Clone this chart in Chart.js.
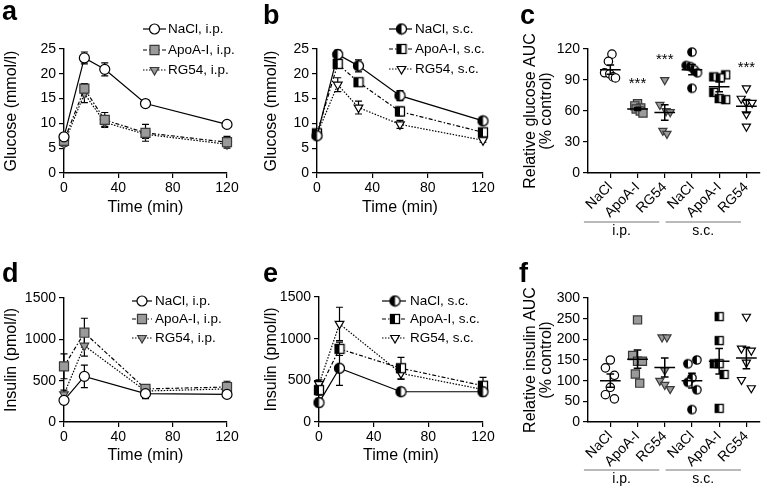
<!DOCTYPE html>
<html><head><meta charset="utf-8">
<script src="https://cdn.jsdelivr.net/npm/chart.js@4.4.1/dist/chart.umd.min.js"></script>
<style>
html,body{margin:0;padding:0;background:#fff;}
body{width:767px;height:488px;position:relative;overflow:hidden;font-family:'Liberation Sans',Arial,Helvetica,sans-serif;}
canvas{position:absolute;}
.letter{position:absolute;font-weight:bold;font-size:27px;line-height:27px;color:#000;}
</style></head>
<body>
<canvas id="cA" width="256" height="240" style="left:0;top:0"></canvas>
<canvas id="cB" width="256" height="240" style="left:256px;top:0"></canvas>
<canvas id="cC" width="255" height="240" style="left:512px;top:0"></canvas>
<canvas id="cD" width="256" height="248" style="left:0;top:240px"></canvas>
<canvas id="cE" width="256" height="248" style="left:256px;top:240px"></canvas>
<canvas id="cF" width="255" height="248" style="left:512px;top:240px"></canvas>
<div class="letter" style="left:2px;top:-2px">a</div>
<div class="letter" style="left:263px;top:2px">b</div>
<div class="letter" style="left:520px;top:2px">c</div>
<div class="letter" style="left:2px;top:260px">d</div>
<div class="letter" style="left:263px;top:260px">e</div>
<div class="letter" style="left:519px;top:260px">f</div>
<script>
const FONT = "'Liberation Sans', Arial, Helvetica, sans-serif";
Chart.defaults.font.family = FONT;
Chart.defaults.color = '#000';

// ---------------- data ----------------
const timeGlucose = [0, 15, 30, 60, 120];
const timeInsulin = [0, 15, 60, 120];
const timeTicks = [0, 40, 80, 120];
const labelsIP = ['NaCl, i.p.', 'ApoA-I, i.p.', 'RG54, i.p.'];
const labelsSC = ['NaCl, s.c.', 'ApoA-I, s.c.', 'RG54, s.c.'];

// glucose (mmol/l), mean and SEM
const gluNaClIP = [7.3, 23.2, 20.9, 14.0, 9.8];
const gluNaClIPSem = [0.6, 1.2, 1.3, 0.4, 0.4];
const gluApoIP = [6.5, 17.0, 10.7, 8.1, 6.2];
const gluApoIPSem = [0.6, 1.0, 1.5, 1.7, 1.2];
const gluRG54IP = [5.9, 16.0, 10.2, 7.8, 5.8];
const gluRG54IPSem = [0.5, 1.8, 0.8, 0.8, 0.5];

const gluNaClSC = [7.5, 23.9, 21.6, 15.6, 10.5];
const gluNaClSCSem = [0.5, 0.9, 1.2, 1.0, 0.7];
const gluApoSC = [8.0, 22.0, 18.3, 12.4, 8.2];
const gluApoSCSem = [0.5, 0.8, 0.6, 0.9, 0.5];
const gluRG54SC = [7.8, 17.8, 13.2, 9.8, 6.6];
const gluRG54SCSem = [0.5, 1.4, 1.3, 0.8, 0.4];

// insulin (pmol/l), mean and SEM
const insNaClIP = [262, 552, 343, 334];
const insNaClIPSem = [40, 135, 60, 40];
const insApoIP = [673, 1080, 400, 423];
const insApoIPSem = [150, 175, 50, 70];
const insRG54IP = [335, 923, 375, 400];
const insRG54IPSem = [50, 125, 40, 50];

const insNaClSC = [233, 645, 363, 363];
const insNaClSCSem = [50, 205, 45, 50];
const insApoSC = [383, 878, 645, 435];
const insApoSCSem = [60, 80, 130, 100];
const insRG54SC = [455, 1177, 584, 390];
const insRG54SCSem = [50, 200, 70, 40];

// AUC categories
const aucGroups = ['NaCl', 'ApoA-I', 'RG54', 'NaCl', 'ApoA-I', 'RG54'];
const aucRoutes = ['i.p.', 's.c.'];

// relative glucose AUC (% control), individual animals
const aucGluNaClIP = [115, 108, 97, 96, 93, 92];
const aucGluApoIP = [67, 65, 63, 62, 60, 58];
const aucGluRG54IP = [90, 66, 60, 59, 41, 38];
const aucGluNaClSC = [117, 104, 103, 100, 97, 82];
const aucGluApoSC = [95, 93, 92, 78, 72, 71];
const aucGluRG54SC = [82, 72, 68, 68, 57, 45];
const aucGluMean = [100, 62, 58.5, 100, 83.5, 64.7];
const aucGluSem = [4.5, 1.5, 7.5, 5, 4.8, 6.5];
const aucGluSig = ['', '***', '***', '', '', '***'];

// relative insulin AUC (% control), individual animals
const aucInsNaClIP = [150, 131, 113, 84, 66, 56];
const aucInsApoIP = [247, 161, 147, 147, 116, 94];
const aucInsRG54IP = [205, 205, 125, 100, 90, 80];
const aucInsNaClSC = [150, 141, 107, 96, 78, 30];
const aucInsApoSC = [255, 197, 141, 141, 115, 33];
const aucInsRG54SC = [255, 178, 173, 144, 102, 82];
const aucInsMean = [100, 152, 132, 100, 147, 155];
const aucInsSem = [16, 22, 23, 18, 31, 26];
const aucInsSig = ['', '', '', '', '', ''];

// horizontal spread of the dots inside each category (category units)
const jitGluNaClIP = [0.06, -0.07, -0.21, -0.02, 0.1, 0.19];
const jitGluApoIP = [0.0, -0.1, 0.12, -0.05, 0.1, 0.2];
const jitGluRG54IP = [0, -0.18, 0.05, 0.2, -0.07, 0.08];
const jitGluNaClSC = [0, -0.21, -0.06, 0.08, 0.2, 0];
const jitGluApoSC = [0.24, -0.2, 0.04, -0.2, 0, 0.24];
const jitGluRG54SC = [0, -0.19, 0, 0.21, 0, 0];
const jitInsNaClIP = [0, -0.18, 0.15, 0, -0.18, 0.15];
const jitInsApoIP = [0, -0.18, 0, 0.18, -0.08, 0.08];
const jitInsRG54IP = [-0.1, 0.08, 0, -0.18, 0, 0.2];
const jitInsNaClSC = [0.18, -0.15, 0, -0.15, 0.18, 0];
const jitInsApoSC = [0, 0, -0.18, 0, 0.18, 0];
const jitInsRG54SC = [0, -0.18, 0.18, 0, -0.18, 0.18];

// ---------------- marker images ----------------
function halfCircle(r) {
  const s = Math.ceil(2 * r + 3), c = document.createElement('canvas');
  c.width = s; c.height = s;
  const g = c.getContext('2d'), m = s / 2;
  g.beginPath(); g.arc(m, m, r, 0, Math.PI * 2); g.fillStyle = '#fff'; g.fill();
  g.beginPath(); g.moveTo(m, m - r); g.arc(m, m, r, -Math.PI / 2, Math.PI / 2, true); g.closePath();
  g.fillStyle = '#000'; g.fill();
  g.beginPath(); g.arc(m, m, r, 0, Math.PI * 2); g.lineWidth = 1.3; g.strokeStyle = '#000'; g.stroke();
  return c;
}
function halfSquare(side) {
  const s = Math.ceil(side + 3), c = document.createElement('canvas');
  c.width = s; c.height = s;
  const g = c.getContext('2d'), m = s / 2, h = side / 2;
  g.fillStyle = '#fff'; g.fillRect(m - h, m - h, side, side);
  g.fillStyle = '#000'; g.fillRect(m - h, m - h, h, side);
  g.lineWidth = 1.3; g.strokeStyle = '#000'; g.strokeRect(m - h, m - h, side, side);
  return c;
}

// ---------------- styles ----------------
const GREY = '#9a9a9a', GREYB = '#3a3a3a';
function lineStyles(sc) {
  return sc ? [
    {pointStyle: halfCircle(5), radius: 5, bg: '#000', border: '#000', dash: []},
    {pointStyle: halfSquare(9), radius: 5, bg: '#000', border: '#000', dash: [4, 2, 1.5, 2]},
    {pointStyle: 'triangle', rotation: 180, radius: 5, bg: '#fff', border: '#000', dash: [1.5, 1.5]}
  ] : [
    {pointStyle: 'circle', radius: 5, bg: '#fff', border: '#000', dash: []},
    {pointStyle: 'rect', radius: 6.4, bg: GREY, border: GREYB, dash: [4, 2, 1.5, 2]},
    {pointStyle: 'triangle', rotation: 180, radius: 5, bg: GREY, border: GREYB, dash: [1.5, 1.5]}
  ];
}
const dotStyles = [
  {pointStyle: 'circle', radius: 4.2, bg: '#fff', border: '#000'},
  {pointStyle: 'rect', radius: 5.8, bg: GREY, border: GREYB},
  {pointStyle: 'triangle', rotation: 180, radius: 4.7, bg: GREY, border: GREYB},
  {pointStyle: halfCircle(4.2), radius: 4.2, bg: '#000', border: '#000'},
  {pointStyle: halfSquare(8), radius: 4.5, bg: '#000', border: '#000'},
  {pointStyle: 'triangle', rotation: 180, radius: 4.7, bg: '#fff', border: '#000'}
];

const gridOpt = {display: true, drawOnChartArea: false, drawTicks: true, tickLength: 5, color: '#000', lineWidth: 1.2};
const borderOpt = {display: true, color: '#000', width: 1.4};
const plainNum = v => String(v);

// ---------------- plugins ----------------
const semBars = {
  id: 'semBars',
  beforeDatasetsDraw(chart) {
    const {ctx, scales: {x, y}} = chart;
    ctx.save();
    ctx.strokeStyle = '#000'; ctx.lineWidth = 1.2; ctx.setLineDash([]);
    chart.data.datasets.forEach(ds => {
      if (!ds.sem) return;
      ds.data.forEach((p, j) => {
        const e = ds.sem[j];
        if (!e) return;
        const px = x.getPixelForValue(p.x);
        const yt = y.getPixelForValue(p.y + e), yb = y.getPixelForValue(p.y - e);
        ctx.beginPath();
        ctx.moveTo(px, yt); ctx.lineTo(px, yb);
        ctx.moveTo(px - 3.5, yt); ctx.lineTo(px + 3.5, yt);
        ctx.moveTo(px - 3.5, yb); ctx.lineTo(px + 3.5, yb);
        ctx.stroke();
      });
    });
    ctx.restore();
  }
};

function drawMarker(ctx, ds, x, y) {
  ctx.fillStyle = ds.pointBackgroundColor;
  ctx.strokeStyle = ds.pointBorderColor;
  ctx.lineWidth = ds.pointBorderWidth;
  Chart.helpers.drawPoint(ctx, {pointStyle: ds.pointStyle, radius: ds.pointRadius,
    rotation: ds.pointRotation || 0, borderWidth: ds.pointBorderWidth}, x, y);
}

function makeLegend(o) {
  return {
    id: 'lineLegend',
    afterDraw(chart) {
      const ctx = chart.ctx;
      chart.data.datasets.forEach((ds, i) => {
        const y = o.rows[i];
        ctx.save();
        ctx.strokeStyle = '#000'; ctx.lineWidth = ds.borderWidth; ctx.setLineDash(ds.borderDash || []);
        ctx.beginPath(); ctx.moveTo(o.x0, y); ctx.lineTo(o.x1, y); ctx.stroke();
        ctx.setLineDash([]);
        drawMarker(ctx, ds, o.xm, y);
        ctx.fillStyle = '#000'; ctx.font = o.size + 'px ' + FONT;
        ctx.textBaseline = 'middle'; ctx.textAlign = 'left';
        ctx.fillText(ds.label, o.xt, y);
        ctx.restore();
      });
    }
  };
}

function makeAucPlugin(o) {
  return {
    id: 'aucExtras',
    afterDatasetsDraw(chart) {
      const {ctx, scales: {x, y}} = chart;
      ctx.save();
      ctx.strokeStyle = '#000'; ctx.lineWidth = 1.5; ctx.setLineDash([]);
      o.means.forEach((m, i) => {
        const cx = x.getPixelForValue(i);
        const my = y.getPixelForValue(m);
        const ty = y.getPixelForValue(m + o.sems[i]), by = y.getPixelForValue(m - o.sems[i]);
        const hw = x.getPixelForValue(i + 0.38) - cx;
        const cw = x.getPixelForValue(i + 0.14) - cx;
        ctx.beginPath();
        ctx.moveTo(cx - hw, my); ctx.lineTo(cx + hw, my);
        ctx.moveTo(cx, ty); ctx.lineTo(cx, by);
        ctx.moveTo(cx - cw, ty); ctx.lineTo(cx + cw, ty);
        ctx.moveTo(cx - cw, by); ctx.lineTo(cx + cw, by);
        ctx.stroke();
      });
      ctx.fillStyle = '#000'; ctx.font = '15px ' + FONT; ctx.textAlign = 'center'; ctx.textBaseline = 'alphabetic';
      o.sig.forEach((s, i) => {
        if (!s) return;
        const top = Math.max(...o.values[i]);
        ctx.fillText(s, x.getPixelForValue(i), y.getPixelForValue(top) - 16);
      });
      ctx.restore();
    },
    afterDraw(chart) {
      const {ctx, scales: {x}, chartArea} = chart;
      ctx.save();
      const ly = chartArea.bottom + o.lineOffset;
      aucRoutes.forEach((r, k) => {
        const first = 3 * k, last = 3 * k + 2;
        const xa = x.getPixelForValue(first - 0.97), xb = x.getPixelForValue(last - 0.2);
        ctx.strokeStyle = '#777'; ctx.lineWidth = 1.2;
        ctx.beginPath(); ctx.moveTo(xa, ly); ctx.lineTo(xb, ly); ctx.stroke();
        ctx.fillStyle = '#000'; ctx.font = '14px ' + FONT; ctx.textAlign = 'center'; ctx.textBaseline = 'middle';
        ctx.fillText(r, (xa + xb) / 2, ly + 9);
      });
      ctx.restore();
    }
  };
}

// ---------------- chart builders ----------------
function makeLineChart(id, o) {
  const datasets = o.series.map((s, i) => {
    const st = o.styles[i];
    return {
      label: s.label,
      data: o.times.map((t, k) => ({x: t, y: s.values[k]})),
      sem: s.sem,
      borderColor: '#000', borderWidth: 1.2, borderDash: st.dash,
      pointStyle: st.pointStyle, pointRadius: st.radius, pointRotation: st.rotation || 0,
      pointBackgroundColor: st.bg, pointBorderColor: st.border, pointBorderWidth: 1.2,
      tension: 0, fill: false, clip: false
    };
  });
  return new Chart(document.getElementById(id), {
    type: 'line',
    data: {datasets},
    options: {
      responsive: false, animation: false, events: [],
      layout: {padding: o.pad},
      plugins: {legend: {display: false}, tooltip: {enabled: false}},
      scales: {
        x: {
          type: 'linear', min: 0, max: 120,
          afterBuildTicks: s => { s.ticks = timeTicks.map(v => ({value: v})); },
          afterFit: s => { s.height = o.xH; },
          grid: gridOpt, border: borderOpt,
          ticks: {font: {size: 14}, padding: 2, maxRotation: 0, color: '#000', callback: plainNum},
          title: {display: true, text: 'Time (min)', font: {size: 16}, padding: {top: 0, bottom: o.xTitlePad}, color: '#000'}
        },
        y: {
          type: 'linear', min: 0, max: o.yMax,
          ticks: {stepSize: o.yStep, font: {size: 14}, padding: 3, color: '#000', callback: plainNum},
          afterFit: s => { s.width = o.yW; },
          grid: gridOpt, border: borderOpt,
          title: {display: true, text: o.yTitle, font: {size: 16}, padding: {top: o.yTitlePad, bottom: 0}, color: '#000'}
        }
      }
    },
    plugins: [semBars, makeLegend(o.legend)]
  });
}

function makeAucChart(id, o) {
  const datasets = o.values.map((vals, gi) => {
    const st = dotStyles[gi];
    return {
      label: aucGroups[gi] + ', ' + aucRoutes[gi < 3 ? 0 : 1],
      data: vals.map((v, k) => ({x: gi + o.jitter[gi][k], y: v})),
      showLine: false,
      pointStyle: st.pointStyle, pointRadius: st.radius, pointRotation: st.rotation || 0,
      pointBackgroundColor: st.bg, pointBorderColor: st.border, pointBorderWidth: 1.2,
      clip: false
    };
  });
  return new Chart(document.getElementById(id), {
    type: 'scatter',
    data: {datasets},
    options: {
      responsive: false, animation: false, events: [],
      layout: {padding: o.pad},
      plugins: {legend: {display: false}, tooltip: {enabled: false}},
      scales: {
        x: {
          type: 'linear', min: -0.82, max: 5.5,
          afterBuildTicks: s => { s.ticks = aucGroups.map((g, i) => ({value: i})); },
          afterFit: s => { s.height = o.xH; },
          grid: gridOpt, border: borderOpt,
          ticks: {callback: v => aucGroups[v], autoSkip: false, minRotation: 45, maxRotation: 45,
                  font: {size: 14}, padding: 1, color: '#000'}
        },
        y: {
          type: 'linear', min: 0, max: o.yMax,
          ticks: {stepSize: o.yStep, font: {size: 14}, padding: 3, color: '#000', callback: plainNum},
          afterFit: s => { s.width = o.yW; },
          grid: gridOpt, border: borderOpt,
          title: {display: true, text: o.yTitle, font: {size: 16, lineHeight: 1}, padding: {top: o.yTitlePad, bottom: 0}, color: '#000'}
        }
      }
    },
    plugins: [makeAucPlugin({means: o.means, sems: o.sems, sig: o.sig, values: o.values, lineOffset: o.lineOffset})]
  });
}

// ---------------- panels ----------------
makeLineChart('cA', {
  times: timeGlucose,
  series: [
    {label: labelsIP[0], values: gluNaClIP, sem: gluNaClIPSem},
    {label: labelsIP[1], values: gluApoIP, sem: gluApoIPSem},
    {label: labelsIP[2], values: gluRG54IP, sem: gluRG54IPSem}
  ],
  styles: lineStyles(false),
  pad: {top: 49, right: 29, left: 0, bottom: 0}, xH: 67, yW: 64, xTitlePad: 22.4,
  yMax: 25, yStep: 5, yTitle: 'Glucose (mmol/l)', yTitlePad: 2,
  legend: {x0: 143, x1: 166, xm: 154.5, xt: 168, rows: [29, 50, 70], size: 13.5}
});
makeLineChart('cB', {
  times: timeGlucose,
  series: [
    {label: labelsSC[0], values: gluNaClSC, sem: gluNaClSCSem},
    {label: labelsSC[1], values: gluApoSC, sem: gluApoSCSem},
    {label: labelsSC[2], values: gluRG54SC, sem: gluRG54SCSem}
  ],
  styles: lineStyles(true),
  pad: {top: 49, right: 29, left: 0, bottom: 0}, xH: 67, yW: 61, xTitlePad: 22.4,
  yMax: 25, yStep: 5, yTitle: 'Glucose (mmol/l)', yTitlePad: 6,
  legend: {x0: 133, x1: 156, xm: 145.5, xt: 159, rows: [29, 49, 69], size: 13.5}
});
makeAucChart('cC', {
  values: [aucGluNaClIP, aucGluApoIP, aucGluRG54IP, aucGluNaClSC, aucGluApoSC, aucGluRG54SC],
  jitter: [jitGluNaClIP, jitGluApoIP, jitGluRG54IP, jitGluNaClSC, jitGluApoSC, jitGluRG54SC],
  means: aucGluMean, sems: aucGluSem, sig: aucGluSig,
  pad: {top: 49, right: 2, left: 0, bottom: 0}, xH: 67, yW: 76, lineOffset: 49,
  yMax: 120, yStep: 30, yTitle: ['Relative glucose AUC', '(% control)'], yTitlePad: 11
});
makeLineChart('cD', {
  times: timeInsulin,
  series: [
    {label: labelsIP[0], values: insNaClIP, sem: insNaClIPSem},
    {label: labelsIP[1], values: insApoIP, sem: insApoIPSem},
    {label: labelsIP[2], values: insRG54IP, sem: insRG54IPSem}
  ],
  styles: lineStyles(false),
  pad: {top: 58, right: 29, left: 0, bottom: 0}, xH: 66, yW: 64, xTitlePad: 22.4,
  yMax: 1500, yStep: 500, yTitle: 'Insulin (pmol/l)', yTitlePad: 1.5,
  legend: {x0: 132, x1: 152, xm: 142, xt: 155, rows: [61, 79, 98], size: 13.5}
});
makeLineChart('cE', {
  times: timeInsulin,
  series: [
    {label: labelsSC[0], values: insNaClSC, sem: insNaClSCSem},
    {label: labelsSC[1], values: insApoSC, sem: insApoSCSem},
    {label: labelsSC[2], values: insRG54SC, sem: insRG54SCSem}
  ],
  styles: lineStyles(true),
  pad: {top: 57, right: 29, left: 0, bottom: 0}, xH: 66, yW: 63, xTitlePad: 22.4,
  yMax: 1500, yStep: 500, yTitle: 'Insulin (pmol/l)', yTitlePad: 6,
  legend: {x0: 126, x1: 150, xm: 139, xt: 154, rows: [61, 79, 98], size: 13.5}
});
makeAucChart('cF', {
  values: [aucInsNaClIP, aucInsApoIP, aucInsRG54IP, aucInsNaClSC, aucInsApoSC, aucInsRG54SC],
  jitter: [jitInsNaClIP, jitInsApoIP, jitInsRG54IP, jitInsNaClSC, jitInsApoSC, jitInsRG54SC],
  means: aucInsMean, sems: aucInsSem, sig: aucInsSig,
  pad: {top: 58, right: 2, left: 0, bottom: 0}, xH: 66, yW: 76, lineOffset: 48,
  yMax: 300, yStep: 50, yTitle: ['Relative insulin AUC', '(% control)'], yTitlePad: 11
});
</script>
</body></html>
